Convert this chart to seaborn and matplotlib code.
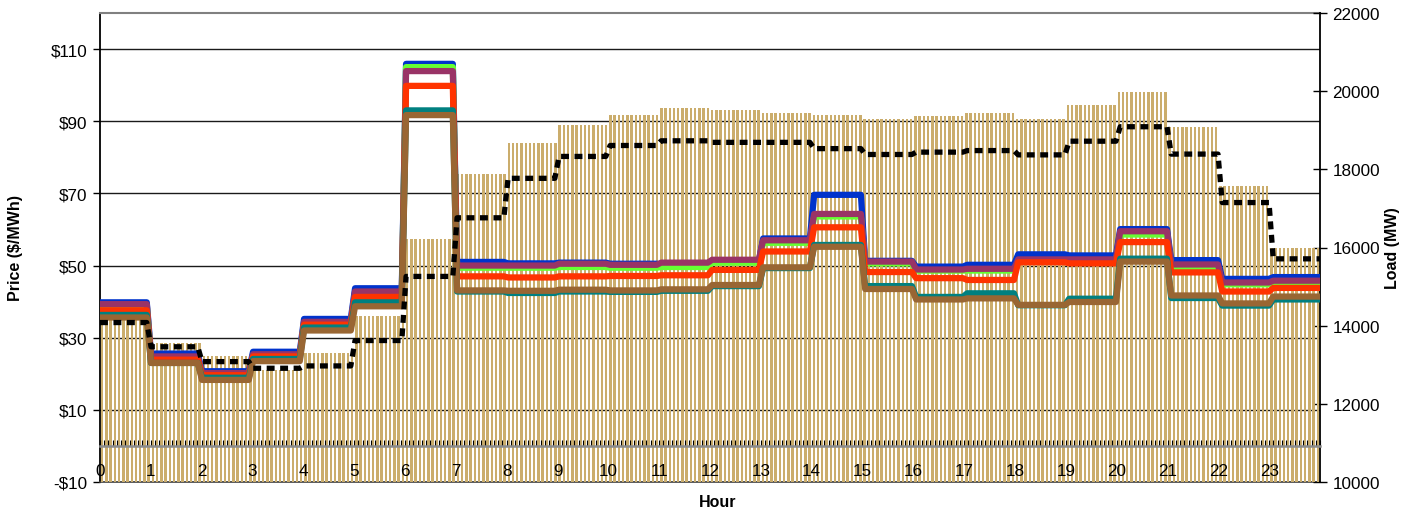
import numpy as np
import pandas as pd
import matplotlib
matplotlib.use("Agg")
import matplotlib.pyplot as plt
from matplotlib.ticker import MultipleLocator, FixedLocator, FuncFormatter
import seaborn as sns

# hourly values, each hour is held flat over its twelve 5-minute intervals
hours = list(range(24))
load_actual = [14450, 13560, 13220, 12870, 13300, 14260, 16220, 17880, 18680, 19140, 19390, 19560,
               19520, 19440, 19390, 19290, 19370, 19440, 19290, 19650, 19970, 19090, 17570, 15980]
load_forecast = [14080, 13460, 13080, 12910, 12970, 13620, 15260, 16760, 17770, 18330, 18610, 18730,
                 18690, 18690, 18530, 18380, 18440, 18480, 18370, 18720, 19090, 18390, 17150, 15710]

price_blue = [39.8, 25.6, 20.7, 26.1, 35.2, 43.7, 105.9, 51.0, 50.6, 50.8, 50.5, 50.1,
              51.3, 57.5, 69.6, 51.3, 49.7, 50.2, 53.1, 52.8, 60.1, 51.5, 46.3, 46.8]
price_green = [38.8, 24.5, 20.0, 25.0, 34.0, 42.0, 105.0, 49.4, 49.4, 49.6, 49.4, 49.6,
               50.8, 56.3, 63.6, 50.6, 48.6, 48.6, 51.0, 51.0, 58.6, 49.6, 44.8, 45.3]
price_purple = [39.3, 24.8, 20.2, 25.4, 34.4, 42.8, 103.9, 50.0, 50.0, 50.5, 50.2, 50.8,
                51.6, 57.0, 64.3, 51.1, 48.9, 49.1, 51.7, 51.7, 59.5, 50.3, 45.3, 45.8]
price_red = [37.6, 23.9, 19.6, 24.8, 33.6, 41.3, 99.8, 47.0, 46.7, 47.0, 47.1, 47.3,
             48.8, 53.9, 60.6, 48.2, 46.5, 46.0, 50.9, 50.6, 56.5, 48.1, 42.8, 43.8]
price_teal = [36.3, 23.0, 18.9, 24.1, 32.8, 39.8, 93.0, 42.8, 42.4, 42.8, 42.7, 43.0,
              44.3, 49.3, 55.7, 44.3, 41.3, 42.3, 39.0, 40.8, 51.9, 41.0, 38.9, 40.6]
price_brown = [35.6, 23.0, 18.3, 23.5, 32.0, 38.7, 91.7, 43.1, 43.0, 43.3, 43.1, 43.4,
               44.6, 49.5, 55.2, 43.5, 40.6, 40.9, 39.1, 39.9, 51.1, 41.7, 39.5, 41.4]

series_colors = {"blue": "#0033CC", "green": "#66FF33", "purple": "#993366",
                 "red": "#FF3300", "teal": "#008080", "brown": "#996633"}
price_series = {"blue": price_blue, "green": price_green, "purple": price_purple,
                "red": price_red, "teal": price_teal, "brown": price_brown}

STEPS = 12
n = len(hours) * STEPS
bar_x = (np.arange(n) + 0.5) / STEPS      # bars sit between ticks
line_x = np.linspace(0, 24, n)            # lines sit on tick marks

bars_df = pd.DataFrame({"t": bar_x, "load": np.repeat(load_actual, STEPS)})
fc_df = pd.DataFrame({"t": line_x, "load": np.repeat(load_forecast, STEPS)})
price_df = pd.concat([pd.DataFrame({"t": line_x, "price": np.repeat(v, STEPS), "case": k})
                      for k, v in price_series.items()], ignore_index=True)

sns.set_theme(style="white")
plt.rcParams["font.family"] = ["Liberation Sans", "DejaVu Sans"]
plt.rcParams.update({"text.color": "black", "axes.labelcolor": "black",
                     "xtick.color": "black", "ytick.color": "black"})
FS = 12.3

fig = plt.figure(figsize=(14.07, 5.10), dpi=100)
axg = fig.add_axes([100 / 1407, 1 - 483 / 510, 1220 / 1407, 469 / 510])
axb = axg.twinx()   # load bars
axp = axg.twinx()   # price lines
axd = axg.twinx()   # forecast load, dashed
axg.set_zorder(0); axb.set_zorder(1); axp.set_zorder(2); axd.set_zorder(3)

PMIN, PMAX = -10, 120
LMIN, LMAX = 10000, 22000

# price grid + left axis
axg.set_ylim(PMIN, PMAX)
axg.set_xlim(0, 24)
axg.yaxis.set_major_locator(FixedLocator([-10, 10, 30, 50, 70, 90, 110]))
axg.yaxis.set_major_formatter(FuncFormatter(lambda v, p: f"${v:.0f}" if v >= 0 else f"-${-v:.0f}"))
axg.grid(axis="y", color="#1a1a1a", lw=1.0)
axg.grid(axis="x", visible=False)
axg.tick_params(axis="y", direction="out", length=5, width=1, color="black", labelsize=FS, pad=4,
                left=True, labelcolor="black")
axg.tick_params(axis="x", bottom=False, labelbottom=False, which="both")
axg.spines["right"].set_visible(False)
axg.spines["left"].set_color("black"); axg.spines["left"].set_linewidth(1.3)
axg.spines["top"].set_color("#808080"); axg.spines["top"].set_linewidth(1.5)
axg.spines["bottom"].set_color("#404040"); axg.spines["bottom"].set_linewidth(1.2)
axg.set_ylabel("Price ($/MWh)", fontsize=FS - 0.8, fontweight="bold", color="black")
axg.yaxis.set_label_coords(-0.063, 0.5)
axg.set_xlabel("Hour", fontsize=FS - 0.8, fontweight="bold", color="black")
axg.xaxis.set_label_coords(0.506, -0.025)

# load bars + right axis
sns.barplot(data=bars_df, x="t", y="load", ax=axb, native_scale=True, orient="x",
            color="#CBAD6C", saturation=1, width=0.58, errorbar=None, linewidth=0)
axb.set_ylim(LMIN, LMAX)
axb.set_xlim(0, 24)
axb.yaxis.set_major_locator(MultipleLocator(2000))
axb.tick_params(axis="y", direction="inout", length=10, width=1, color="black", labelsize=FS, pad=4,
                right=True, labelcolor="black")
for s in ["left", "top", "bottom"]:
    axb.spines[s].set_visible(False)
axb.spines["right"].set_color("black"); axb.spines["right"].set_linewidth(1.3)
axb.set_ylabel("Load (MW)", fontsize=FS - 0.8, fontweight="bold", color="black")
axb.yaxis.set_label_coords(1.053, 0.5)
axb.set_xlabel("")
axb.xaxis.set_visible(False)

# price lines, category axis crosses at $0
sns.lineplot(data=price_df, x="t", y="price", hue="case", palette=series_colors,
             hue_order=list(series_colors), ax=axp, lw=4.5, legend=False,
             estimator=None, sort=False, solid_joinstyle="round")
axp.set_ylim(PMIN, PMAX)
axp.set_xlim(0, 24)
axp.yaxis.set_visible(False)
axp.xaxis.set_visible(True)
axp.xaxis.tick_bottom()
for s in ["left", "top", "right"]:
    axp.spines[s].set_visible(False)
axp.spines["bottom"].set_position(("data", 0))
axp.spines["bottom"].set_color("#8c8c8c"); axp.spines["bottom"].set_linewidth(1.8)
axp.xaxis.set_major_locator(MultipleLocator(1))
axp.xaxis.set_minor_locator(MultipleLocator(1 / STEPS))
axp.xaxis.set_major_formatter(FuncFormatter(lambda v, p: f"{v:.0f}" if v < 24 else ""))
axp.tick_params(axis="x", which="both", direction="in", length=4, width=0.8, color="black",
                labelsize=FS, pad=12, bottom=True, labelcolor="black")
axp.set_xlabel(""); axp.set_ylabel("")

# forecast load dashed
sns.lineplot(data=fc_df, x="t", y="load", ax=axd, color="black", lw=3.8,
             linestyle=(0, (1.5, 1.05)), estimator=None, sort=False, legend=False)
axd.set_ylim(LMIN, LMAX)
axd.set_xlim(0, 24)
axd.axis("off")

fig.savefig("out.png", dpi=100)
